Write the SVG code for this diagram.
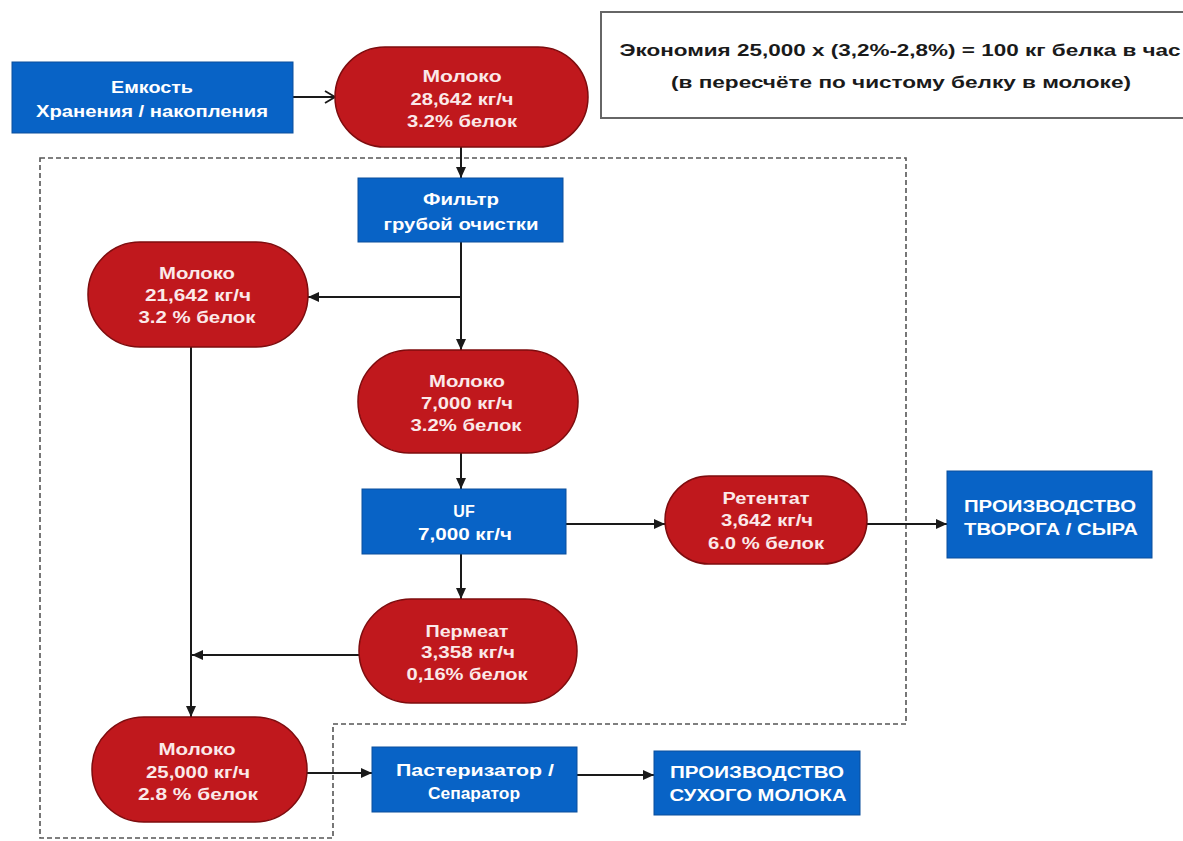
<svg xmlns="http://www.w3.org/2000/svg" width="1183" height="841" viewBox="0 0 1183 841">
<defs>
<style>
.box{fill:#0863c6;stroke:#0a4f9c;stroke-width:1}
.pill{fill:#c0181d;stroke:#7e0c0e;stroke-width:1.5}
.t{font-family:"Liberation Sans",Arial,sans-serif;font-weight:bold;font-size:16px;fill:#ffffff;text-anchor:middle}
.tp{fill:#fbe9e9}
.s{font-family:"Liberation Sans",Arial,sans-serif;font-weight:bold;font-size:16px;fill:#1a1a1a;text-anchor:middle}
.c{stroke:#1a1a1a;stroke-width:2;fill:none}
</style>
<marker id="ah" markerUnits="userSpaceOnUse" markerWidth="12" markerHeight="10" refX="11" refY="5" orient="auto">
<path d="M0,0 L11,5 L0,10 Z" fill="#1a1a1a"/>
</marker>
<marker id="open" markerUnits="userSpaceOnUse" markerWidth="12" markerHeight="14" refX="11" refY="7" orient="auto">
<path d="M1,1 L11,7 L1,13" fill="none" stroke="#1a1a1a" stroke-width="1.8"/>
</marker>
</defs>
<rect width="1183" height="841" fill="#ffffff"/>

<g id="region">
<path d="M40,158 L906,158 L906,724 L333,724 L333,838 L40,838 Z" fill="none" stroke="#555" stroke-width="1.6" stroke-dasharray="5,3"/>
</g>

<g id="summary">
<rect x="601" y="12" width="600" height="106" fill="#fff" stroke="#666" stroke-width="2"/>
<text class="s" x="900" y="56" textLength="561" lengthAdjust="spacingAndGlyphs">Экономия 25,000 x (3,2%-2,8%) = 100 кг белка в час</text>
<text class="s" x="901" y="88" textLength="460" lengthAdjust="spacingAndGlyphs">(в пересчёте по чистому белку в молоке)</text>
</g>

<g id="connectors">
<line class="c" x1="293" y1="97" x2="335" y2="97" marker-end="url(#open)"/>
<line class="c" x1="461" y1="147" x2="461" y2="178" marker-end="url(#ah)"/>
<line class="c" x1="461" y1="242" x2="461" y2="350" marker-end="url(#ah)"/>
<line class="c" x1="461" y1="297" x2="308" y2="297" marker-end="url(#ah)"/>
<line class="c" x1="461" y1="453" x2="461" y2="489" marker-end="url(#ah)"/>
<line class="c" x1="566" y1="524" x2="665" y2="524" marker-end="url(#ah)"/>
<line class="c" x1="867" y1="524" x2="947" y2="524" marker-end="url(#ah)"/>
<line class="c" x1="461" y1="554" x2="461" y2="599" marker-end="url(#ah)"/>
<line class="c" x1="359" y1="655" x2="192" y2="655" marker-end="url(#ah)"/>
<line class="c" x1="191" y1="347" x2="191" y2="717" marker-end="url(#ah)"/>
<line class="c" x1="307" y1="773" x2="372" y2="773" marker-end="url(#ah)"/>
<line class="c" x1="577" y1="775" x2="654" y2="775" marker-end="url(#ah)"/>
</g>

<g id="tank">
<rect class="box" x="12" y="62" width="281" height="71"/>
<text class="t" x="152" y="93" textLength="82" lengthAdjust="spacingAndGlyphs">Емкость</text>
<text class="t" x="152" y="117" textLength="232" lengthAdjust="spacingAndGlyphs">Хранения / накопления</text>
</g>

<g id="milk-in">
<rect class="pill" x="335" y="47" width="253" height="100" rx="50" ry="50"/>
<text class="t tp" x="462" y="82" textLength="79" lengthAdjust="spacingAndGlyphs">Молоко</text>
<text class="t tp" x="462" y="105" textLength="103" lengthAdjust="spacingAndGlyphs">28,642 кг/ч</text>
<text class="t tp" x="462" y="127" textLength="110" lengthAdjust="spacingAndGlyphs">3.2% белок</text>
</g>

<g id="filter">
<rect class="box" x="358" y="178" width="205" height="64"/>
<text class="t" x="461" y="205" textLength="76" lengthAdjust="spacingAndGlyphs">Фильтр</text>
<text class="t" x="461" y="230" textLength="155" lengthAdjust="spacingAndGlyphs">грубой очистки</text>
</g>

<g id="milk-bypass">
<rect class="pill" x="88" y="242" width="220" height="105" rx="52" ry="52"/>
<text class="t tp" x="197" y="279" textLength="76" lengthAdjust="spacingAndGlyphs">Молоко</text>
<text class="t tp" x="198" y="301" textLength="106" lengthAdjust="spacingAndGlyphs">21,642 кг/ч</text>
<text class="t tp" x="197" y="323" textLength="117" lengthAdjust="spacingAndGlyphs">3.2 % белок</text>
</g>

<g id="milk-uf">
<rect class="pill" x="358" y="350" width="220" height="103" rx="51" ry="51"/>
<text class="t tp" x="467" y="387" textLength="76" lengthAdjust="spacingAndGlyphs">Молоко</text>
<text class="t tp" x="467" y="409" textLength="92" lengthAdjust="spacingAndGlyphs">7,000 кг/ч</text>
<text class="t tp" x="466" y="431" textLength="111" lengthAdjust="spacingAndGlyphs">3.2% белок</text>
</g>

<g id="uf">
<rect class="box" x="362" y="489" width="204" height="65"/>
<text class="t" x="464" y="517">UF</text>
<text class="t" x="465" y="540" textLength="94" lengthAdjust="spacingAndGlyphs">7,000 кг/ч</text>
</g>

<g id="retentate">
<rect class="pill" x="665" y="476" width="202" height="88" rx="44" ry="44"/>
<text class="t tp" x="766" y="504" textLength="87" lengthAdjust="spacingAndGlyphs">Ретентат</text>
<text class="t tp" x="767" y="526" textLength="92" lengthAdjust="spacingAndGlyphs">3,642 кг/ч</text>
<text class="t tp" x="766" y="549" textLength="116" lengthAdjust="spacingAndGlyphs">6.0 % белок</text>
</g>

<g id="cheese">
<rect class="box" x="947" y="471" width="205" height="87"/>
<text class="t" x="1050" y="512" textLength="172" lengthAdjust="spacingAndGlyphs">ПРОИЗВОДСТВО</text>
<text class="t" x="1051" y="535" textLength="174" lengthAdjust="spacingAndGlyphs">ТВОРОГА / СЫРА</text>
</g>

<g id="permeate">
<rect class="pill" x="359" y="599" width="218" height="104" rx="52" ry="52"/>
<text class="t tp" x="467" y="637" textLength="83" lengthAdjust="spacingAndGlyphs">Пермеат</text>
<text class="t tp" x="468" y="658" textLength="94" lengthAdjust="spacingAndGlyphs">3,358 кг/ч</text>
<text class="t tp" x="467" y="680" textLength="121" lengthAdjust="spacingAndGlyphs">0,16% белок</text>
</g>

<g id="milk-out">
<rect class="pill" x="92" y="717" width="215" height="105" rx="52" ry="52"/>
<text class="t tp" x="197" y="755" textLength="77" lengthAdjust="spacingAndGlyphs">Молоко</text>
<text class="t tp" x="198" y="778" textLength="104" lengthAdjust="spacingAndGlyphs">25,000 кг/ч</text>
<text class="t tp" x="198" y="800" textLength="120" lengthAdjust="spacingAndGlyphs">2.8 % белок</text>
</g>

<g id="pasteurizer">
<rect class="box" x="372" y="747" width="205" height="65"/>
<text class="t" x="475" y="776" textLength="158" lengthAdjust="spacingAndGlyphs">Пастеризатор /</text>
<text class="t" x="474" y="799" textLength="92" lengthAdjust="spacingAndGlyphs">Сепаратор</text>
</g>

<g id="powder">
<rect class="box" x="654" y="751" width="206" height="64"/>
<text class="t" x="757" y="778" textLength="174" lengthAdjust="spacingAndGlyphs">ПРОИЗВОДСТВО</text>
<text class="t" x="758" y="801" textLength="177" lengthAdjust="spacingAndGlyphs">СУХОГО МОЛОКА</text>
</g>
</svg>
